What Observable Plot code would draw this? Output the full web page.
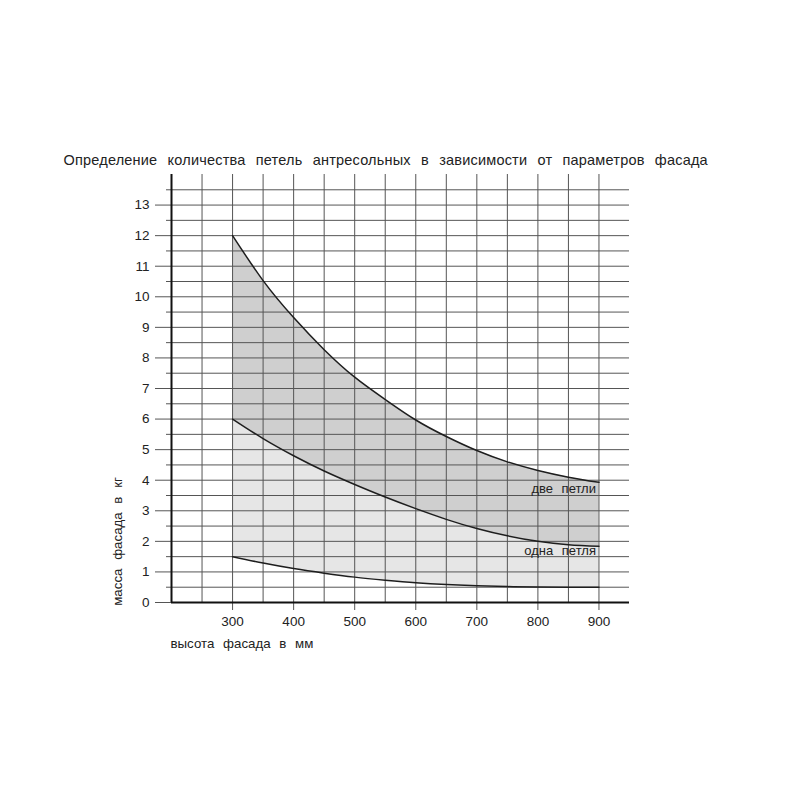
<!DOCTYPE html>
<html>
<head>
<meta charset="utf-8">
<script src="https://cdn.jsdelivr.net/npm/d3@7"></script>
<script src="https://cdn.jsdelivr.net/npm/@observablehq/plot@0.6"></script>
<style>
  html, body { margin: 0; padding: 0; background: #fff; }
  #chart svg text { word-spacing: 5px; }
  #chart svg .ttl text { word-spacing: 6px; letter-spacing: 0.2px; }
</style>
</head>
<body>
<div id="chart"></div>
<script>
// ---- data ----
const heights = [300, 350, 400, 450, 500, 550, 600, 650, 700, 750, 800, 850, 900];
const upperMass  = [12, 10.53, 9.32, 8.27, 7.37, 6.64, 5.97, 5.43, 4.97, 4.60, 4.32, 4.10, 3.93];
const middleMass = [6.0, 5.36, 4.80, 4.30, 3.86, 3.45, 3.07, 2.72, 2.42, 2.18, 2.00, 1.89, 1.84];
const lowerMass  = [1.5, 1.29, 1.11, 0.96, 0.83, 0.73, 0.645, 0.585, 0.545, 0.52, 0.505, 0.50, 0.50];

const xTickValues = [300, 400, 500, 600, 700, 800, 900];
const xGridValues = [250, 300, 350, 400, 450, 500, 550, 600, 650, 700, 750, 800, 850, 900];
const yTickValues = [0, 1, 2, 3, 4, 5, 6, 7, 8, 9, 10, 11, 12, 13];
const yHalfValues = [0.5, 1.5, 2.5, 3.5, 4.5, 5.5, 6.5, 7.5, 8.5, 9.5, 10.5, 11.5, 12.5, 13.5];
const yGridValues = [...yTickValues.slice(1), ...yHalfValues];

const zoneLabels = [
  {x: 900, y: 3.73, text: "две петли"},
  {x: 900, y: 1.70, text: "одна петля"}
];
const titleText = "Определение количества петель антресольных в зависимости от параметров фасада";
const xLabel = "высота фасада в мм";
const yLabel = "масса фасада в кг";

const rows = heights.map((h, i) => ({h, up: upperMass[i], mid: middleMass[i], low: lowerMass[i]}));

const gridColor = "#555";
const curve = "natural";

const chart = Plot.plot({
  width: 800,
  height: 800,
  marginLeft: 171,
  marginRight: 171,
  marginTop: 174,
  marginBottom: 198,
  x: {domain: [200, 950]},
  y: {domain: [0, 14]},
  style: {fontFamily: "'Liberation Sans', Arial, sans-serif", fontSize: "13px", color: "#222", background: "#fff"},
  marks: [
    Plot.areaY(rows, {x: "h", y1: "low", y2: "mid", fill: "#e6e6e6", curve}),
    Plot.areaY(rows, {x: "h", y1: "mid", y2: "up", fill: "#cfcfcf", curve}),
    Plot.ruleX(xGridValues, {y1: 0, y2: 14, stroke: gridColor, strokeWidth: 1}),
    Plot.ruleY(yGridValues, {x1: 200, x2: 950, stroke: gridColor, strokeWidth: 1}),
    Plot.axisY({ticks: yTickValues, tickSize: 16, tickPadding: 6, stroke: gridColor, fontSize: 13.5, tickFormat: d => String(d)}),
    Plot.axisY({ticks: yHalfValues, tickSize: 5, stroke: gridColor, tickFormat: () => ""}),
    Plot.axisX({ticks: xTickValues, tickSize: 8, tickPadding: 6, stroke: gridColor, fontSize: 13.5, tickFormat: d => String(d)}),
    Plot.ruleX([200], {y1: 0, y2: 14, stroke: "#111", strokeWidth: 2}),
    Plot.ruleY([0], {x1: 200, x2: 950, stroke: "#111", strokeWidth: 2}),
    Plot.line(rows, {x: "h", y: "up", stroke: "#1e1e1e", strokeWidth: 1.5, curve}),
    Plot.line(rows, {x: "h", y: "mid", stroke: "#1e1e1e", strokeWidth: 1.5, curve}),
    Plot.line(rows, {x: "h", y: "low", stroke: "#1e1e1e", strokeWidth: 1.5, curve}),
    Plot.text(zoneLabels, {x: "x", y: "y", text: "text", textAnchor: "end", dx: -3, fontSize: 13, fill: "#222"}),
    Plot.text([titleText], {frameAnchor: "top-left", dx: -108, dy: -14, textAnchor: "start", lineAnchor: "middle", fontSize: 14.5, fill: "#222", className: "ttl"}),
    Plot.text([xLabel], {frameAnchor: "bottom-left", dx: -1, dy: 41, textAnchor: "start", lineAnchor: "middle", fontSize: 13.3, fill: "#222"}),
    Plot.text([yLabel], {frameAnchor: "bottom-left", dx: -54, dy: -61, rotate: -90, textAnchor: "middle", lineAnchor: "middle", fontSize: 13.3, fill: "#222"})
  ]
});
document.getElementById("chart").appendChild(chart);
</script>
</body>
</html>
